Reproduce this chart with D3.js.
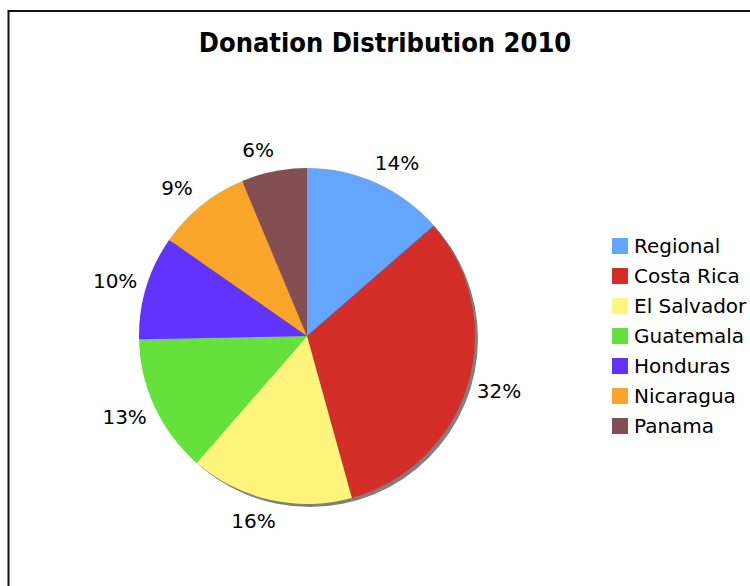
<!DOCTYPE html>
<html>
<head>
<meta charset="utf-8">
<script src="https://cdn.jsdelivr.net/npm/d3@7"></script>
<style>
  body { margin: 0; background: #fff; }
  text { font-family: "DejaVu Sans", Verdana, sans-serif; }
</style>
</head>
<body>
<div id="canvas"></div>
<script>
const categories = ["Regional", "Costa Rica", "El Salvador", "Guatemala", "Honduras", "Nicaragua", "Panama"];
const values = [13.6, 32.1, 15.7, 13.3, 10.0, 9.0, 6.3];
const colors = ["#64a5ff", "#d32f28", "#fff47c", "#64e13b", "#6133ff", "#f8a52a", "#844f52"];

const data = categories.map((name, i) => ({ name: name, value: values[i] }));

const width = 750;
const height = 586;
const cx = 307;
const cy = 336;
const radius = 168;

const svg = d3.select("#canvas").append("svg")
  .attr("width", width)
  .attr("height", height);

// frame
svg.append("rect")
  .attr("x", 8.5)
  .attr("y", 11)
  .attr("width", 760)
  .attr("height", 600)
  .style("fill", "none")
  .style("stroke", "#111")
  .style("stroke-width", 2);

svg.append("text")
  .attr("x", 385)
  .attr("y", 52)
  .attr("text-anchor", "middle")
  .style("font-family", "'DejaVu Sans Condensed', 'DejaVu Sans', sans-serif")
  .style("font-size", "27px")
  .style("font-weight", "bold")
  .text("Donation Distribution 2010");

const color = d3.scaleOrdinal().domain(categories).range(colors);

const pie = d3.pie().value(d => d.value).sort(null);
const arcs = pie(data);

const arc = d3.arc().innerRadius(0).outerRadius(radius);
// unit direction of each slice middle, labels sit on a slightly flattened ring
const unitArc = d3.arc().innerRadius(1).outerRadius(1);

function labelPos(d) {
  const [ux, uy] = unitArc.centroid(d);
  const x = 200 * ux + Math.sign(ux) * 12 * (1 - Math.abs(ux));
  const y = 190 * uy;
  return [x, y];
}

// shadow
svg.append("circle")
  .attr("cx", cx + 3)
  .attr("cy", cy + 3)
  .attr("r", radius)
  .style("fill", "#7f7f7f");

const g = svg.append("g")
  .attr("transform", `translate(${cx},${cy})`);

g.selectAll("path")
  .data(arcs)
  .enter()
  .append("path")
  .attr("d", arc)
  .style("fill", d => color(d.data.name));

g.selectAll("text.label")
  .data(arcs)
  .enter()
  .append("text")
  .attr("class", "label")
  .attr("transform", d => `translate(${labelPos(d)})`)
  .attr("text-anchor", "middle")
  .attr("dy", "0.36em")
  .style("font-size", "20px")
  .text(d => Math.round(d.data.value) + "%");

// legend
const legend = svg.append("g")
  .attr("transform", "translate(612,238)");

const y = d3.scaleBand()
  .domain(categories)
  .range([0, 210]);

const items = legend.selectAll("g")
  .data(categories)
  .enter()
  .append("g")
  .attr("transform", d => `translate(0,${y(d)})`);

items.append("rect")
  .attr("width", 16)
  .attr("height", 16)
  .style("fill", d => color(d));

items.append("text")
  .attr("x", 22)
  .attr("y", 8)
  .attr("dy", "0.36em")
  .style("font-size", "20px")
  .text(d => d);
</script>
</body>
</html>
